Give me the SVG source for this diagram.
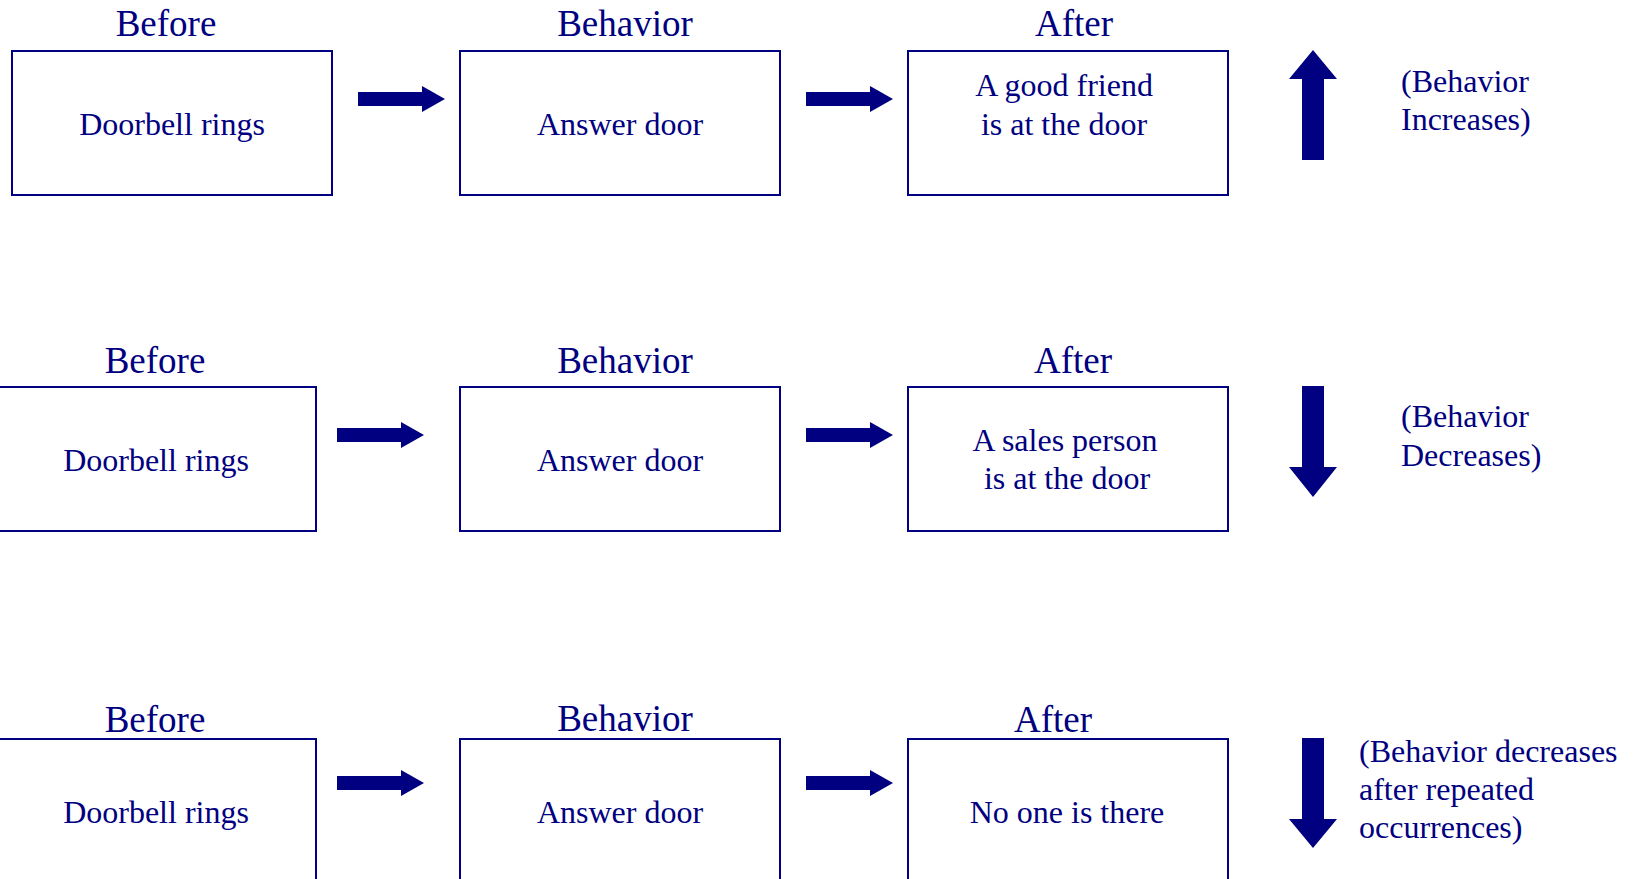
<svg xmlns="http://www.w3.org/2000/svg" width="1636" height="879" viewBox="0 0 1636 879">
<style>
text{font-family:"Liberation Serif","Times New Roman",serif;fill:#000080}
.h{font-size:37px;text-anchor:middle}
.b{font-size:32px;text-anchor:middle}
.n{font-size:32px}
.box{fill:#fff;stroke:#000080;stroke-width:2}
.arr{fill:#000080}
</style>
<rect width="1636" height="879" fill="#fff"/>
<defs>
<path id="ra" d="M0,-7 H64 V-13 L87,0 L64,13 V7 H0 Z"/>
</defs>
<!-- Row 1 -->
<g id="r1-before">
<text class="h" x="166" y="36">Before</text>
<rect class="box" x="12" y="51" width="320" height="144"/>
<text class="b" x="172" y="135">Doorbell rings</text>
</g>
<g id="r1-behavior">
<text class="h" x="625" y="36">Behavior</text>
<rect class="box" x="460" y="51" width="320" height="144"/>
<text class="b" x="620" y="135">Answer door</text>
</g>
<g id="r1-after">
<text class="h" x="1074" y="36">After</text>
<rect class="box" x="908" y="51" width="320" height="144"/>
<text class="b" x="1064" y="96">A good friend</text>
<text class="b" x="1064" y="135">is at the door</text>
</g>
<g id="r1-result">
<path class="arr" d="M1313,50 L1337,79 H1324 V160 H1302 V79 H1289 Z"/>
<text class="n" x="1401" y="92">(Behavior</text>
<text class="n" x="1401" y="130">Increases)</text>
</g>
<!-- Row 2 -->
<g id="r2-before">
<text class="h" x="155" y="373">Before</text>
<rect class="box" x="-4" y="387" width="320" height="144"/>
<text class="b" x="156" y="471">Doorbell rings</text>
</g>
<g id="r2-behavior">
<text class="h" x="625" y="373">Behavior</text>
<rect class="box" x="460" y="387" width="320" height="144"/>
<text class="b" x="620" y="471">Answer door</text>
</g>
<g id="r2-after">
<text class="h" x="1073" y="373">After</text>
<rect class="box" x="908" y="387" width="320" height="144"/>
<text class="b" x="1065" y="451">A sales person</text>
<text class="b" x="1067" y="489">is at the door</text>
</g>
<g id="r2-result">
<path class="arr" d="M1302,386 H1324 V467 H1337 L1313,497 L1289,467 H1302 Z"/>
<text class="n" x="1401" y="427">(Behavior</text>
<text class="n" x="1401" y="466">Decreases)</text>
</g>
<!-- Row 3 -->
<g id="r3-before">
<text class="h" x="155" y="732">Before</text>
<rect class="box" x="-4" y="739" width="320" height="144"/>
<text class="b" x="156" y="823">Doorbell rings</text>
</g>
<g id="r3-behavior">
<text class="h" x="625" y="731">Behavior</text>
<rect class="box" x="460" y="739" width="320" height="144"/>
<text class="b" x="620" y="823">Answer door</text>
</g>
<g id="r3-after">
<text class="h" x="1053" y="732">After</text>
<rect class="box" x="908" y="739" width="320" height="144"/>
<text class="b" x="1067" y="823">No one is there</text>
</g>
<g id="r3-result">
<path class="arr" d="M1302,738 H1324 V819 H1337 L1313,848 L1289,819 H1302 Z"/>
<text class="n" x="1359" y="762">(Behavior decreases</text>
<text class="n" x="1359" y="800">after repeated</text>
<text class="n" x="1359" y="838">occurrences)</text>
</g>
<g id="connectors" class="arr">
<use href="#ra" x="358" y="99"/>
<use href="#ra" x="806" y="99"/>
<use href="#ra" x="337" y="435"/>
<use href="#ra" x="806" y="435"/>
<use href="#ra" x="337" y="783"/>
<use href="#ra" x="806" y="783"/>
</g>
</svg>
